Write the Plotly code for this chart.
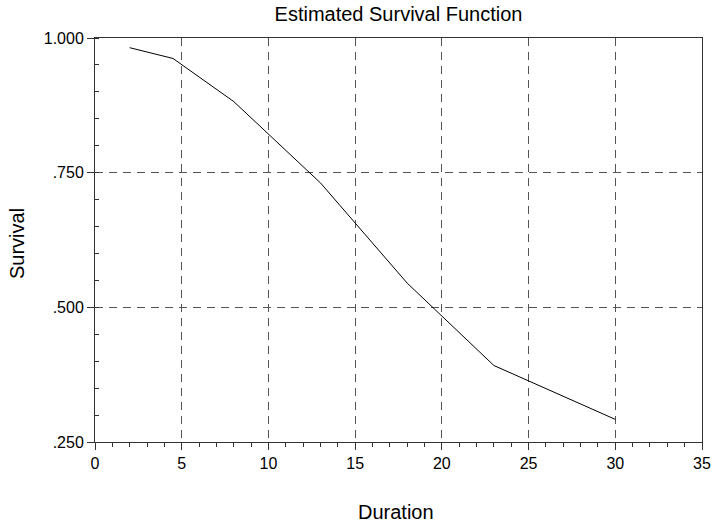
import plotly.graph_objects as go

# Data
duration = [2, 4.5, 8, 13, 18, 23, 30]
survival = [0.982, 0.962, 0.882, 0.731, 0.545, 0.392, 0.292]

x_ticks = [0, 5, 10, 15, 20, 25, 30, 35]
y_ticks = [0.25, 0.5, 0.75, 1.0]
y_ticktext = [".250", ".500", ".750", "1.000"]

FONT = "Liberation Sans, Arial, sans-serif"
W, H = 713, 523
ML, MR, MT, MB = 95, 11, 38, 81
PW = W - ML - MR
PH = H - MT - MB

fig = go.Figure()
fig.add_trace(go.Scatter(
    x=duration, y=survival, mode="lines",
    line=dict(color="black", width=1),
    showlegend=False, hoverinfo="x+y",
))

axis_common = dict(
    showline=True, linecolor="#333", linewidth=1, mirror=True,
    showgrid=True, gridcolor="#555", gridwidth=1, griddash="8px,6px",
    ticks="outside", ticklen=7, tickcolor="#333", tickwidth=1,
    tickfont=dict(family=FONT, size=16, color="black"),
    zeroline=False, fixedrange=True, automargin=False,
)

fig.update_xaxes(
    range=[0, 35], tickmode="array", tickvals=x_ticks,
    minor=dict(tickmode="linear", tick0=0, dtick=1, ticks="outside",
               ticklen=4, tickcolor="#333", showgrid=False),
    **axis_common,
)
fig.update_yaxes(
    range=[0.25, 1.0], tickmode="array", tickvals=y_ticks, ticktext=y_ticktext,
    minor=dict(tickmode="linear", tick0=0.25, dtick=0.05, ticks="inside",
               ticklen=4, tickcolor="#333", showgrid=False),
    **axis_common,
)

fig.update_layout(
    width=W, height=H,
    margin=dict(l=ML, r=MR, t=MT, b=MB, pad=0, autoexpand=False),
    paper_bgcolor="white", plot_bgcolor="white",
    font=dict(family=FONT, color="black"),
    title=dict(text="Estimated Survival Function", x=(398.5) / W, xanchor="center",
               y=1 - 13.5 / H, yanchor="middle", yref="container",
               font=dict(family=FONT, size=20, color="black")),
    annotations=[
        dict(text="Duration", xref="paper", yref="paper",
             x=(396 - ML) / PW, y=-(511.5 - (H - MB)) / PH,
             xanchor="center", yanchor="middle", showarrow=False,
             font=dict(family=FONT, size=20, color="black")),
        dict(text="Survival", xref="paper", yref="paper",
             x=-(ML - 17) / PW, y=((H - MB) - 244) / PH,
             xanchor="center", yanchor="middle", showarrow=False, textangle=-90,
             font=dict(family=FONT, size=20, color="black")),
    ],
)

fig.write_html("out.html")
